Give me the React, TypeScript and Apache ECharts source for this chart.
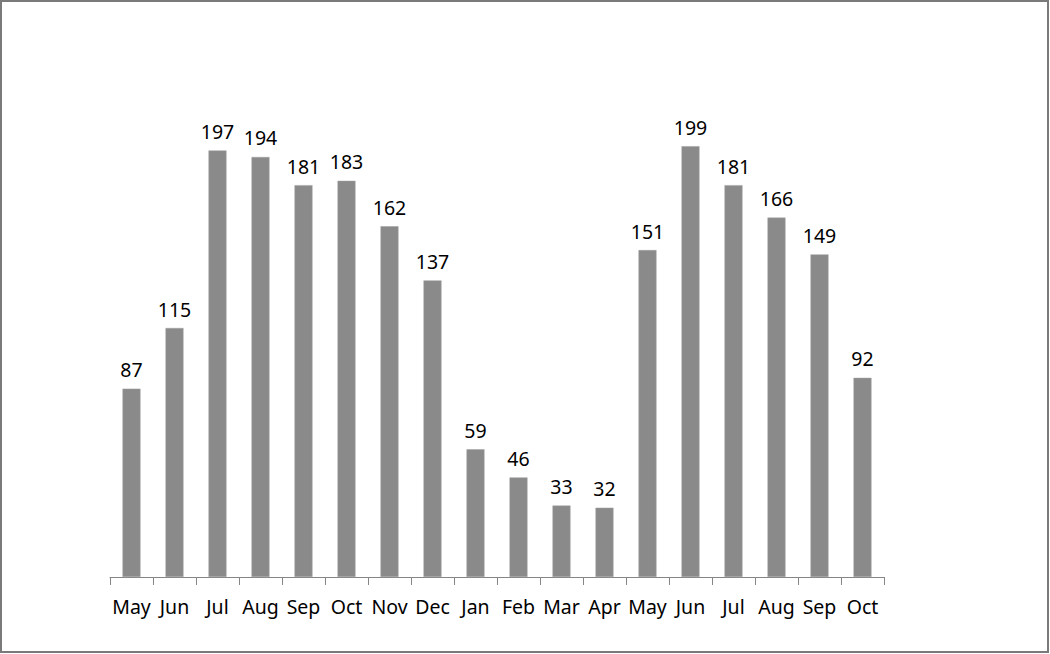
import React, { useEffect, useRef } from "react";
import * as echarts from "echarts";

const categories = ["May", "Jun", "Jul", "Aug", "Sep", "Oct", "Nov", "Dec", "Jan", "Feb", "Mar", "Apr", "May", "Jun", "Jul", "Aug", "Sep", "Oct"];
const values = [87, 115, 197, 194, 181, 183, 162, 137, 59, 46, 33, 32, 151, 199, 181, 166, 149, 92];

export default function App() {
  const ref = useRef<HTMLDivElement>(null);
  useEffect(() => {
    if (!ref.current) return;
    const chart = echarts.init(ref.current, null, { renderer: "svg" });
    chart.setOption({
      animation: false,
      backgroundColor: "#ffffff",
      textStyle: { fontFamily: "Noto Sans" },
      graphic: [
        {
          type: "rect",
          shape: { x: 1, y: 1, width: 1047, height: 651 },
          style: { fill: "none", stroke: "#7a7a7a", lineWidth: 2 },
          silent: true,
        },
      ],
      grid: { left: 110, right: 166, top: 144, bottom: 77 },
      xAxis: {
        type: "category",
        data: categories,
        boundaryGap: true,
        axisLine: { lineStyle: { color: "#868686", width: 1 } },
        axisTick: { show: true, length: 8, lineStyle: { color: "#868686" } },
        axisLabel: { color: "#000000", fontSize: 19.5, margin: 19, interval: 0, fontFamily: "Noto Sans" },
      },
      yAxis: {
        type: "value",
        min: 0,
        max: 200,
        show: false,
        splitLine: { show: false },
      },
      series: [
        {
          type: "bar",
          data: values,
          barWidth: 18,
          itemStyle: { color: "#8a8a8a", borderColor: "#a0a0a0", borderWidth: 0.5 },
          label: {
            show: true,
            position: "top",
            distance: 9,
            color: "#000000",
            fontSize: 19.5,
            fontFamily: "Noto Sans",
          },
        },
      ],
    });
    return () => chart.dispose();
  }, []);
  return <div ref={ref} style={{ position: "fixed", left: 0, top: 0, width: 1050, height: 654 }} />;
}
